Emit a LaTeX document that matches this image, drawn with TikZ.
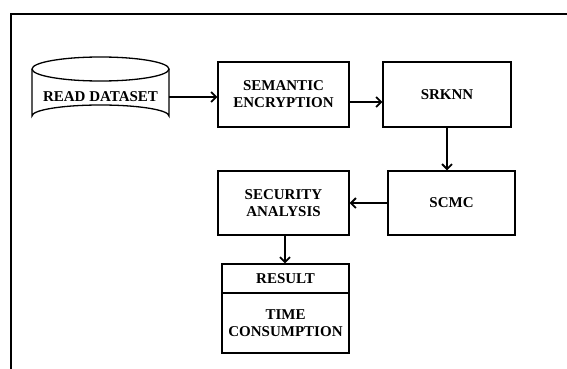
\documentclass[tikz,border=0pt]{standalone}
\usepackage{fontspec}
\setmainfont{Liberation Serif}
\usetikzlibrary{arrows.meta}
\begin{document}
\begin{tikzpicture}[x=1pt,y=-1pt,
  box/.style={draw,line width=1.4pt,rectangle,align=center,font=\fontsize{15}{17}\selectfont\bfseries,inner sep=0pt},
  lbl/.style={align=center,font=\fontsize{15}{17}\selectfont\bfseries,inner sep=0pt},
  arr/.style={line width=2pt,-{Straight Barb[length=5pt,width=10pt,line width=1.8pt]}}]
\useasboundingbox (0,0) rectangle (567,369);
% frame
\draw[line width=2.3pt] (11,372) -- (11,14) -- (570,14);
% cylinder
\draw[line width=1.3pt] (32,69) -- (32,116) arc[start angle=180,end angle=360,x radius=68.5,y radius=11] -- (169,69);
\draw[line width=1.3pt] (100.5,69) ellipse[x radius=68.5,y radius=12];
\node[lbl,minimum width=137pt,minimum height=30pt] (ds) at (100.5,97) {READ DATASET};
% boxes
\node[box,minimum width=131pt,minimum height=65pt] (sem) at (283.5,94.5) {SEMANTIC\\ENCRYPTION};
\node[box,minimum width=128pt,minimum height=65pt] (srk) at (447,94.5) {SRKNN};
\node[box,minimum width=127pt,minimum height=64pt] (scmc) at (451.5,203) {SCMC};
\node[box,minimum width=131pt,minimum height=64pt] (sec) at (283.5,203) {SECURITY\\ANALYSIS};
\node[box,minimum width=127pt,minimum height=29pt] (res) at (285.5,278.5) {RESULT};
\node[box,minimum width=127pt,minimum height=60pt] (time) at (285.5,323) {TIME\\CONSUMPTION};
% arrows
\draw[arr] (ds.east) -- (ds.east -| sem.west);
\draw[arr] ([yshift=-7.5pt]sem.east) -- ([yshift=-7.5pt]sem.east -| srk.west);
\draw[arr] (srk.south) -- (srk.south |- scmc.north);
\draw[arr] (scmc.west) -- (sec.east);
\draw[arr] ([xshift=1.5pt]sec.south) -- ([xshift=1.5pt]sec.south |- res.north);
\end{tikzpicture}
\end{document}
